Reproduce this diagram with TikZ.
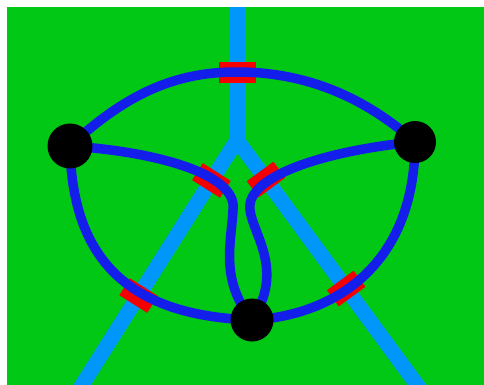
\documentclass[tikz,border=0pt]{standalone}
\usepackage{tikz}
\usetikzlibrary{calc}
\definecolor{fieldgreen}{RGB}{0,200,20}
\definecolor{riverblue}{RGB}{0,150,250}
\definecolor{roadblue}{RGB}{20,30,235}
\definecolor{bridgered}{RGB}{245,0,0}
\tikzset{
  river/.style={riverblue, line width=15pt},
  road/.style={roadblue, line width=9.5pt},
  bridge/.style={fill=bridgered, draw=none, sloped, inner sep=0pt,
    minimum width=20pt, minimum height=33pt},
  town/.style={circle, fill=black, inner sep=0pt, minimum size=43pt}
}

\begin{document}
\begin{tikzpicture}[x=1pt,y=-1pt]
  \useasboundingbox (0,0) rectangle (484,385);
  \fill[fieldgreen] (7,7) rectangle (484,385);

  \coordinate (src) at (237,7);
  \coordinate (fork) at (237,140);
  \coordinate (mouthL) at (77,393);
  \coordinate (mouthR) at (423,393);
  \begin{scope}
    \clip (7,7) rectangle (484,385);
    \draw[river] (src) -- ($(fork)+(0,6)$);
    \draw[river, line join=miter] (mouthL) -- (fork) -- (mouthR);
  \end{scope}

  % bridges across the river
  \path (src) -- (fork)
    node[bridge, pos=0.492, minimum width=21pt, minimum height=37pt] (brT) {};
  \path (fork) -- (mouthL)
    node[bridge, pos=0.16] (brLa) {}
    node[bridge, pos=0.615] (brLb) {};
  \path (fork) -- (mouthR)
    node[bridge, pos=0.156] (brRa) {}
    node[bridge, pos=0.587] (brRb) {};

  \coordinate (pL) at (70,146);
  \coordinate (pR) at (415,142);
  \coordinate (pB) at (252,320);
  \draw[road] (pL) .. controls (130,90) and (180,72) .. (237,72)
    .. controls (300,72) and (360,93) .. (pR);
  \draw[road] (pL) .. controls (72,270) and (140,316) .. (pB);
  \draw[road] (pR) .. controls (415,260) and (340,315) .. (pB);
  \draw[road] (pL) .. controls (160,152) and (238,175) .. (233,210)
    .. controls (231,245) and (220,280) .. (pB);
  \draw[road] (pR) .. controls (330,150) and (245,175) .. (250,210)
    .. controls (253,235) and (285,270) .. (pB);

  \node[town, minimum size=45pt] (L) at (pL) {};
  \node[town, minimum size=42pt] (R) at (pR) {};
  \node[town] (B) at (pB) {};
\end{tikzpicture}
\end{document}
